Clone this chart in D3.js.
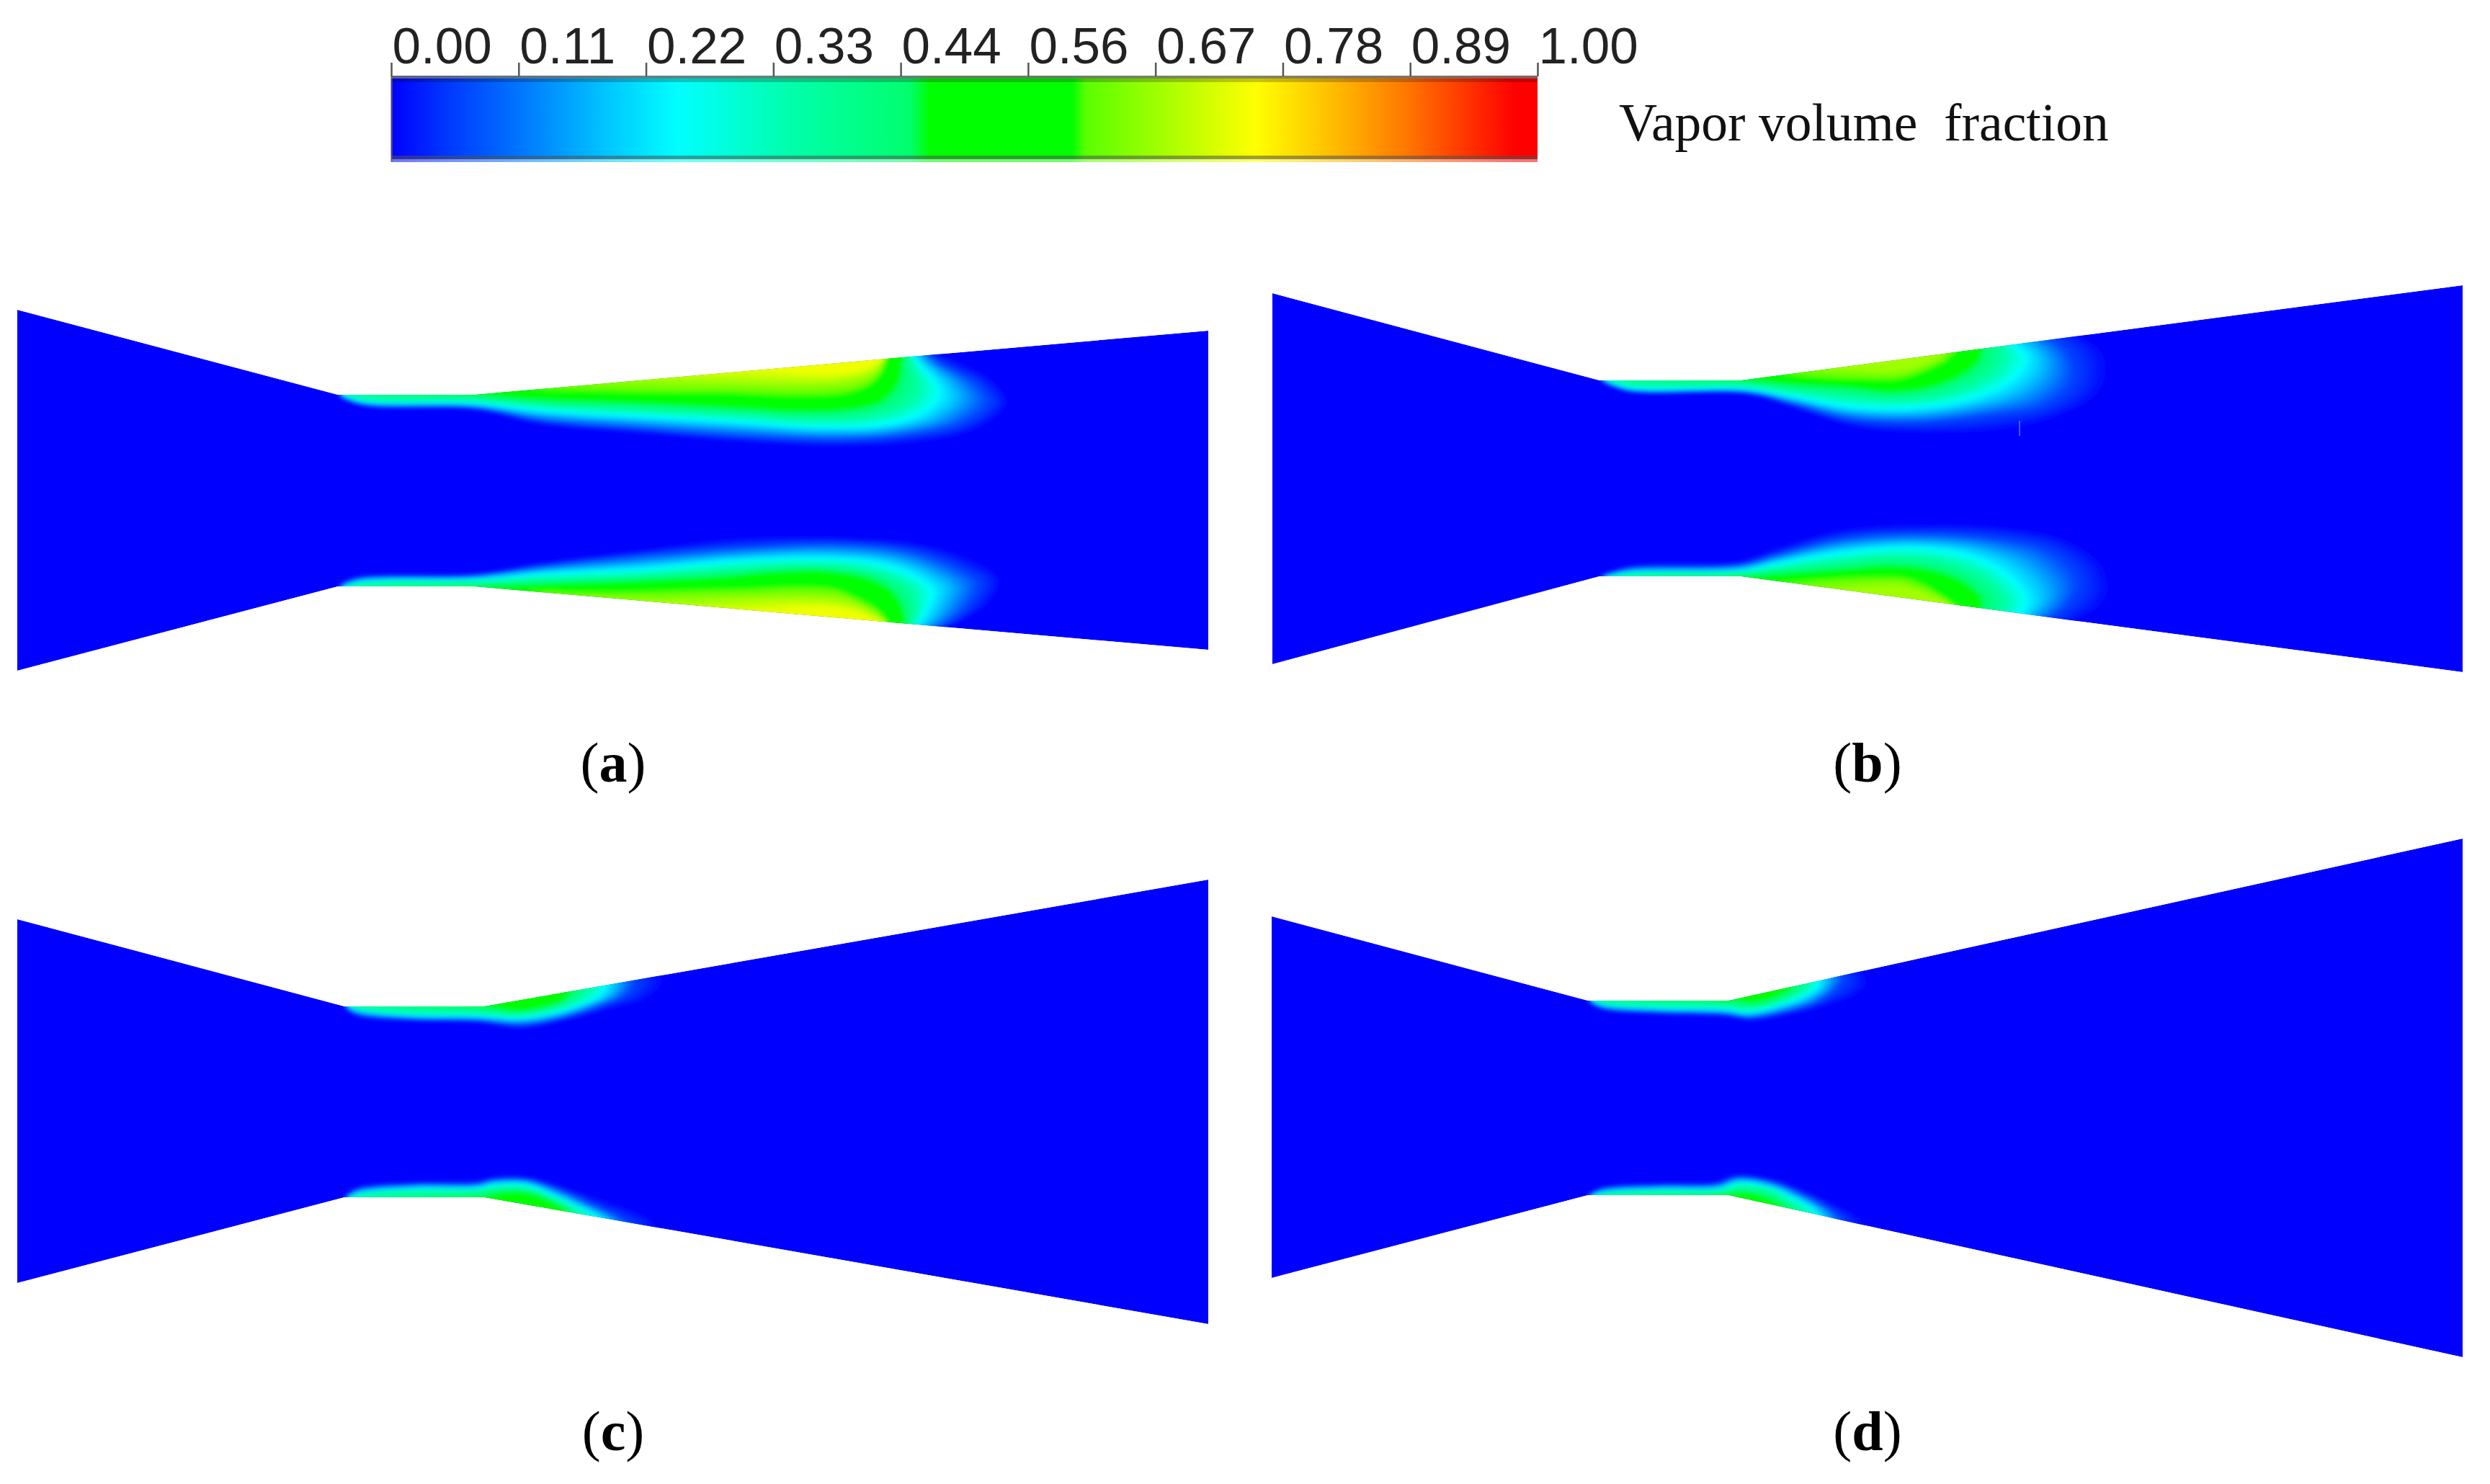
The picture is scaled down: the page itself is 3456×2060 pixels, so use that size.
<!DOCTYPE html>
<html><head><meta charset="utf-8">
<script src="https://cdn.jsdelivr.net/npm/d3@7/dist/d3.min.js"></script>
<style>html,body{margin:0;background:#fff}svg{display:block}</style>
</head><body><div id="chart"></div>
<script>
// Colour bar
const tickLabels = ["0.00","0.11","0.22","0.33","0.44","0.56","0.67","0.78","0.89","1.00"];
const colorPos = [0,0.046,0.095,0.19,0.25,0.35,0.452,0.470,0.594,0.606,0.754,0.82,0.885,0.98,1];
const colorVal = ["#0000ff","#0034ff","#0064ff","#00c8ff","#00ffff","#00ffaa","#00ff6e","#00ff00","#00ff00","#5aff00","#ffff00","#ffbe00","#ff7800","#ff0000","#ff0000"];

// Channel walls: x at [left, throat start, throat end, right]
const wallX = {a:[24,469,658,1677], b:[1766,2220,2416,3418], c:[24,478,672,1677], d:[1765,2204,2399,3418]};
// upper wall y and lower wall y at the same four x
const wallTop = {a:[430,548,548,459], b:[407,528,528,396], c:[1276,1397,1397,1221], d:[1272,1389,1389,1164]};
const wallBot = {a:[931,814,814,902], b:[922,800,800,933], c:[1781,1662,1662,1838], d:[1774,1659,1659,1884]};

// Vapour fraction of each iso-outline
const levelsA = [0.005,0.06,0.24,0.36,0.47,0.60,0.74];
const levelsB = [0.005,0.06,0.24,0.36,0.47,0.60,0.67];
const levelsC = [0.005,0.06,0.24,0.36,0.47];
const levelsD = [0.005,0.06,0.24,0.36,0.47];

// Iso-outlines: [distance from throat start, depth into the channel from the throat wall]
const aUpper = [
 [[0,2],[35,16],[190,21],[281,41],[421,53],[561,65],[702,71],[807,65],[891,46],[930,12],[912,-18],[870,-41],[835,-55]],
 [[4,2],[35,13],[190,18],[281,36],[421,48],[561,58],[702,63],[793,56],[870,39],[905,9],[884,-18],[842,-41],[821,-55]],
 [[7,2],[35,10],[190,13],[281,23],[421,31],[561,39],[667,46],[758,43],[814,26],[838,2],[831,-18],[810,-41],[800,-55]],
 [[12,-2],[40,6],[190,7],[281,15],[421,22],[561,29],[650,35],[730,32],[780,19],[803,-1],[805,-21],[796,-41],[793,-55]],
 [[183,-3],[186,-2],[190,0],[281,7],[421,12],[561,19],[632,23],[702,21],[747,12],[768,-4],[779,-24],[782,-41],[786,-55]],
 [[267,-8],[274,-7],[281,-6],[351,-4],[421,-2],[526,-2],[596,1],[646,2],[702,-1],[737,-13],[752,-28],[758,-41],[761,-55]],
 [[540,-31],[561,-33],[582,-35],[603,-35],[632,-33],[667,-30],[702,-30],[730,-35],[744,-43],[751,-48],[754,-51],[758,-55],[761,-58]]
];
const aLower = [
 [[0,0],[21,12],[190,18],[281,33],[421,50],[561,67],[702,67],[807,59],[877,38],[919,11],[905,-22],[856,-52],[835,-59]],
 [[4,0],[21,10],[190,15],[281,28],[421,44],[561,55],[702,60],[800,49],[863,25],[891,5],[877,-25],[842,-54],[821,-59]],
 [[7,0],[35,7],[190,10],[281,18],[421,25],[561,37],[667,40],[758,32],[807,13],[828,-5],[821,-29],[807,-52],[796,-59]],
 [[12,-2],[40,4],[190,6],[281,10],[421,16],[545,25],[635,30],[712,27],[768,13],[797,-5],[802,-29],[797,-50],[792,-59]],
 [[183,-2],[186,-1],[190,0],[281,3],[421,8],[526,13],[603,20],[667,22],[730,13],[765,-5],[782,-29],[787,-49],[787,-59]],
 [[267,-4],[281,-5],[309,-7],[386,-7],[477,-5],[561,-3],[632,0],[688,-3],[716,-14],[744,-29],[758,-42],[763,-52],[763,-59]],
 [[547,-35],[568,-36],[589,-35],[610,-34],[639,-30],[674,-29],[702,-32],[726,-39],[744,-46],[754,-52],[758,-56],[761,-59],[763,-62]]
];
const bUpper = [
 [[0,1],[41,16],[205,20],[281,42],[357,65],[455,73],[564,68],[640,49],[690,22],[705,-10],[700,-38],[680,-56],[665,-65]],
 [[4,1],[41,14],[205,16],[270,33],[346,54],[444,59],[542,49],[618,36],[655,8],[660,-19],[650,-42],[635,-54],[628,-61]],
 [[9,1],[41,11],[205,13],[270,24],[346,38],[433,40],[509,29],[564,8],[590,-15],[595,-33],[585,-45],[578,-49],[572,-54]],
 [[14,-2],[45,6],[199,7],[270,15],[346,24],[415,28],[480,20],[530,1],[555,-19],[560,-35],[558,-45],[555,-49],[552,-54]],
 [[188,-2],[194,-1],[199,0],[270,6],[346,10],[400,16],[455,10],[498,-6],[522,-24],[529,-38],[529,-45],[529,-49],[529,-54]],
 [[248,-10],[261,-8],[281,-5],[324,-2],[368,-1],[411,-1],[438,-8],[460,-17],[479,-26],[490,-36],[493,-40],[496,-45],[496,-49]],
 [[335,-19],[346,-18],[362,-17],[379,-16],[400,-15],[417,-16],[433,-19],[449,-24],[460,-29],[468,-33],[474,-38],[479,-42],[482,-47]]
];
const bLower = [
 [[0,0],[41,14],[194,21],[248,39],[335,64],[455,71],[574,67],[655,48],[698,16],[708,-16],[698,-39],[672,-57],[652,-67]],
 [[4,0],[41,11],[194,16],[248,31],[335,53],[444,60],[553,53],[625,37],[660,7],[665,-16],[655,-34],[640,-50],[626,-57]],
 [[9,0],[41,5],[194,8],[248,19],[335,34],[433,41],[509,32],[558,11],[588,-16],[596,-32],[595,-41],[591,-46],[588,-53]],
 [[14,-2],[45,3],[194,5],[255,12],[335,22],[415,28],[480,21],[528,3],[555,-19],[562,-32],[562,-40],[560,-45],[558,-50]],
 [[188,1],[194,0],[199,0],[270,5],[335,9],[400,14],[455,9],[498,-5],[522,-23],[529,-32],[529,-39],[529,-44],[529,-48]],
 [[248,-9],[270,-7],[292,-5],[335,-2],[379,-1],[422,-2],[449,-11],[466,-21],[477,-28],[485,-34],[492,-39],[496,-43],[496,-46]],
 [[346,-18],[357,-18],[373,-17],[390,-16],[406,-15],[422,-16],[438,-21],[453,-24],[463,-28],[471,-31],[477,-34],[482,-37],[485,-39]]
];
const cUpper = [
 [[0,1],[15,13],[96,21],[184,23],[245,31],[306,20],[372,3],[424,-13],[442,-33],[438,-50]],
 [[2,1],[15,10],[96,17],[184,19],[245,25],[306,15],[358,-2],[394,-18],[404,-33],[402,-47]],
 [[6,1],[23,6],[96,13],[184,14],[245,17],[291,10],[329,-2],[356,-15],[364,-28],[364,-43]],
 [[10,-2],[27,4],[96,8],[184,9],[243,12],[280,6],[310,-3],[332,-14],[339,-25],[340,-40]],
 [[191,-1],[193,0],[195,0],[214,3],[241,7],[268,3],[291,-3],[308,-13],[314,-23],[316,-37]]
];
const cLower = [
 [[0,0],[15,13],[96,21],[184,23],[207,29],[253,29],[306,14],[364,-6],[420,-27],[440,-44]],
 [[2,0],[15,10],[96,18],[184,19],[207,24],[253,24],[302,9],[346,-11],[388,-31],[404,-44]],
 [[6,0],[23,6],[96,12],[184,13],[207,18],[253,18],[291,3],[321,-11],[352,-27],[364,-41]],
 [[10,-2],[27,4],[96,8],[184,9],[210,13],[253,12],[290,-2],[315,-14],[332,-26],[339,-38]],
 [[191,0],[193,0],[195,0],[214,6],[241,8],[268,3],[291,-7],[308,-17],[312,-24],[314,-34]]
];
const dUpper = [
 [[0,1],[19,12],[100,19],[191,22],[226,28],[283,19],[329,7],[379,-11],[388,-26],[380,-46]],
 [[2,1],[19,10],[100,16],[191,19],[226,23],[279,14],[321,1],[345,-16],[355,-29],[350,-46]],
 [[6,1],[23,6],[100,11],[191,13],[222,17],[268,7],[302,-6],[320,-19],[322,-29],[318,-43]],
 [[10,-2],[27,4],[100,7],[191,8],[224,11],[262,3],[288,-8],[303,-18],[305,-27],[302,-40]],
 [[191,-1],[193,-1],[195,0],[210,1],[230,3],[253,-2],[272,-11],[283,-18],[285,-26],[285,-36]]
];
const dLower = [
 [[0,0],[19,11],[100,17],[176,19],[203,29],[253,23],[310,3],[350,-17],[380,-34],[385,-51]],
 [[2,0],[19,8],[100,13],[180,15],[207,24],[256,18],[302,-1],[335,-19],[350,-31],[355,-44]],
 [[6,0],[23,4],[100,8],[180,9],[210,18],[253,11],[287,-4],[310,-17],[320,-27],[322,-36]],
 [[10,-2],[27,3],[100,5],[182,6],[210,12],[253,7],[280,-9],[296,-19],[303,-26],[304,-34]],
 [[191,0],[193,0],[195,0],[210,4],[230,2],[253,-6],[272,-16],[279,-21],[283,-24],[285,-31]]
];
const panels = [
 {id:"a", levels:levelsA, upper:aUpper, lower:aLower, label:"a", labelX:851, labelY:1085},
 {id:"b", levels:levelsB, upper:bUpper, lower:bLower, label:"b", labelX:2592, labelY:1085},
 {id:"c", levels:levelsC, upper:cUpper, lower:cLower, label:"c", labelX:851, labelY:2013},
 {id:"d", levels:levelsD, upper:dUpper, lower:dLower, label:"d", labelX:2592, labelY:2013}
];
const STEPS = 16;

const W = 3456, H = 2060;
const svg = d3.select("#chart").append("svg").attr("width",W).attr("height",H).attr("viewBox",`0 0 ${W} ${H}`);
svg.append("rect").attr("width",W).attr("height",H).attr("fill","#fff");
const defs = svg.append("defs");
const color = d3.scaleLinear().domain(colorPos).range(colorVal).interpolate(d3.interpolateRgb).clamp(true);

// ---- colour bar ----
const barX = d3.scaleLinear().domain([0,tickLabels.length-1]).range([543,2134]);
const grad = defs.append("linearGradient").attr("id","cbar").attr("x1",0).attr("x2",1).attr("y1",0).attr("y2",0);
colorPos.forEach((p,i)=>grad.append("stop").attr("offset",p).attr("stop-color",colorVal[i]));
const barTop = 105, barBot = 225;
svg.append("rect").attr("x",barX(0)).attr("y",barTop).attr("width",barX.range()[1]-barX(0)).attr("height",barBot-barTop).attr("fill","url(#cbar)");
const strips = [[105,109,"#707070",0.85],[109,114,"#000000",0.22],[216,221,"#505050",0.55],[221,225,"#ffffff",0.45]];
svg.selectAll("rect.strip").data(strips).join("rect").attr("class","strip")
  .attr("x",barX(0)).attr("width",barX.range()[1]-barX(0)).attr("y",d=>d[0]).attr("height",d=>d[1]-d[0]).attr("fill",d=>d[2]).attr("opacity",d=>d[3]);
svg.append("rect").attr("x",barX(0)-1).attr("y",barTop).attr("width",3).attr("height",barBot-barTop).attr("fill","#666").attr("opacity",.6);
const axis = d3.axisTop(barX).tickValues(d3.range(tickLabels.length)).tickFormat(i=>tickLabels[i]).tickSize(19).tickPadding(0);
const axG = svg.append("g").attr("transform",`translate(0,${barTop+1})`).call(axis);
axG.select(".domain").remove();
axG.selectAll("line").attr("stroke","#555").attr("stroke-width",2.5);
axG.selectAll("text").attr("text-anchor","start").attr("dx",1).attr("y",-18).attr("dy",0)
  .attr("font-family","'Liberation Sans',Arial,sans-serif").attr("font-size",71).attr("fill","#222");
svg.append("text").attr("x",2247).attr("y",195).attr("font-family","'Liberation Serif','Times New Roman',serif")
  .attr("font-size",73.5).attr("fill","#111").style("white-space","pre").text("Vapor volume  fraction");

// ---- panels ----
defs.append("filter").attr("id","soft").attr("x","-5%").attr("y","-20%").attr("width","110%").attr("height","140%")
  .append("feGaussianBlur").attr("stdDeviation",3);
const curve = d3.line().curve(d3.curveCatmullRom.alpha(0.5));

function drawCavity(g, levels, outlines, x, y){
  const FAR = 300;
  outlines.slice(0,-1).forEach((from,i)=>{
    const to = outlines[i+1];
    const scale = d3.scaleLinear().domain([0,STEPS]).range([levels[i],levels[i+1]]);
    d3.range(STEPS).forEach(s=>{
      const t = s/STEPS;
      const pts = from.map((p,k)=>[x(p[0]+(to[k][0]-p[0])*t), y(p[1]+(to[k][1]-p[1])*t)]);
      const first = from[0][0]+(to[0][0]-from[0][0])*t, last = from[from.length-1][0]+(to[to.length-1][0]-from[from.length-1][0])*t;
      const d = curve(pts)+`L${x(last)},${y(-FAR)}L${x(first)},${y(-FAR)}Z`;
      g.append("path").attr("d",d).attr("fill",color(scale(s)));
    });
  });
  const top = outlines[outlines.length-1];
  g.append("path").attr("d",curve(top.map(p=>[x(p[0]),y(p[1])]))+`L${x(top[top.length-1][0])},${y(-FAR)}L${x(top[0][0])},${y(-FAR)}Z`)
    .attr("fill",color(levels[levels.length-1]));
}

panels.forEach(p=>{
  const xs = wallX[p.id], ts = wallTop[p.id], bs = wallBot[p.id];
  const poly = xs.map((v,i)=>[v,ts[i]]).concat(xs.map((v,i)=>[v,bs[i]]).reverse());
  defs.append("clipPath").attr("id","clip-"+p.id).append("path").attr("d",d3.line()(poly)+"Z");
  const g = svg.append("g").attr("clip-path",`url(#clip-${p.id})`);
  g.append("path").attr("d",d3.line()(poly)+"Z").attr("fill","#0000ff");
  const inner = g.append("g").attr("filter","url(#soft)");
  const x = d3.scaleLinear().domain([0,1]).range([xs[1],xs[1]+1]);
  drawCavity(inner.append("g"), p.levels, p.upper, x, d3.scaleLinear().domain([0,1]).range([ts[1],ts[1]+1]));
  drawCavity(inner.append("g"), p.levels, p.lower, x, d3.scaleLinear().domain([0,1]).range([bs[1],bs[1]-1]));
  const t = svg.append("text").attr("x",p.labelX).attr("y",p.labelY).attr("text-anchor","middle")
    .attr("font-family","'Liberation Serif','Times New Roman',serif").attr("font-size",78).attr("fill","#000");
  t.append("tspan").text("(");
  t.append("tspan").attr("font-weight","bold").text(p.label);
  t.append("tspan").text(")");
});
// thin artefact visible in panel b
const artefact = [[2803,584],[2803,605]];
svg.append("path").attr("d",d3.line()(artefact)).attr("stroke","#5a78ff").attr("stroke-width",1.5).attr("fill","none");
</script></body></html>
